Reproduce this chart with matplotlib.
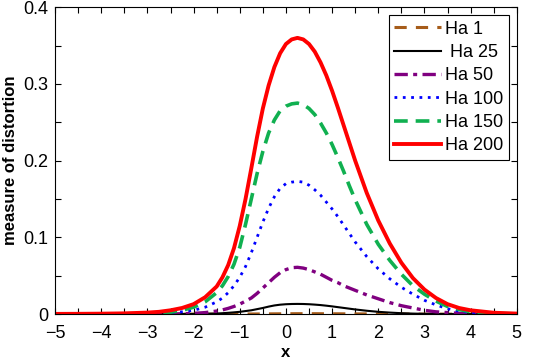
import matplotlib
matplotlib.use("Agg")
import matplotlib.pyplot as plt
from matplotlib.ticker import MultipleLocator

plt.rcParams["font.family"] = ["Liberation Sans", "DejaVu Sans"]

x = [-5, -4.5, -4, -3.5, -3, -2.75, -2.5, -2.25, -2, -1.75,
     -1.5, -1.375, -1.25, -1.125, -1, -0.875, -0.75, -0.625, -0.5, -0.375,
     -0.25, -0.125, 0, 0.125, 0.25, 0.375, 0.5, 0.625, 0.75, 0.875,
     1, 1.125, 1.25, 1.375, 1.5,
     1.75, 2, 2.25, 2.5, 2.75, 3, 3.25, 3.5, 3.75, 4, 4.5, 5]

ha1 = [0, 0, 0, 0, 0, 0, 0, 0, 0, 0,
       0, 0, 0, 0.00005, 0.0001, 0.00015, 0.0002, 0.00025, 0.0003, 0.00035,
       0.0004, 0.00045, 0.0005, 0.00055, 0.0006, 0.0006, 0.0006, 0.0006, 0.00055, 0.0005,
       0.0005, 0.00045, 0.0004, 0.00035, 0.0003,
       0.0003, 0.0002, 0.0001, 0.0001, 0, 0, 0, 0, 0, 0, 0, 0]
ha25 = [0, 0, 0, 0, 0, 0, 0, 0.0001, 0.0002, 0.0004,
        0.0008, 0.0012, 0.0017, 0.0023, 0.003, 0.004, 0.005, 0.0065, 0.008, 0.0098,
        0.0113, 0.0123, 0.0129, 0.0132, 0.0133, 0.0132, 0.0129, 0.0124, 0.0118, 0.0110,
        0.0101, 0.0091, 0.0081, 0.0071, 0.0061,
        0.0044, 0.0030, 0.0020, 0.0012, 0.0007, 0.0004, 0.0002, 0.0001, 0, 0, 0, 0]
ha50 = [0, 0, 0, 0, 0.0001, 0.0002, 0.0003, 0.0005, 0.001, 0.002,
        0.004, 0.0055, 0.0075, 0.010, 0.013, 0.017, 0.021, 0.027, 0.034, 0.041,
        0.048, 0.054, 0.058, 0.0605, 0.061, 0.060, 0.058, 0.055, 0.052, 0.048,
        0.044, 0.041, 0.037, 0.034, 0.031,
        0.025, 0.020, 0.015, 0.011, 0.008, 0.005, 0.003, 0.002, 0.001, 0.0005, 0.0002, 0]
ha100 = [0, 0, 0.0001, 0.0002, 0.0005, 0.001, 0.0018, 0.003, 0.005, 0.009,
         0.016, 0.021, 0.028, 0.037, 0.048, 0.062, 0.080, 0.100, 0.120, 0.138,
         0.153, 0.164, 0.170, 0.172, 0.173, 0.172, 0.168, 0.162, 0.155, 0.146,
         0.137, 0.127, 0.116, 0.105, 0.094,
         0.075, 0.059, 0.046, 0.035, 0.026, 0.018, 0.012, 0.007, 0.004, 0.002, 0.0006, 0.0002]
ha150 = [0.0001, 0.0001, 0.0002, 0.0004, 0.0008, 0.0013, 0.0025, 0.005, 0.009, 0.016,
         0.028, 0.037, 0.049, 0.065, 0.087, 0.117, 0.150, 0.183, 0.212, 0.236,
         0.253, 0.265, 0.271, 0.274, 0.275, 0.273, 0.268, 0.260, 0.249, 0.236,
         0.221, 0.204, 0.186, 0.167, 0.149,
         0.117, 0.091, 0.070, 0.052, 0.037, 0.026, 0.017, 0.010, 0.006, 0.003, 0.001, 0.0003]
ha200 = [0.0003, 0.0004, 0.0006, 0.001, 0.002, 0.003, 0.005, 0.008, 0.013, 0.022,
         0.036, 0.048, 0.064, 0.086, 0.115, 0.150, 0.190, 0.231, 0.268, 0.298,
         0.322, 0.340, 0.352, 0.358, 0.360, 0.358, 0.352, 0.342, 0.328, 0.311,
         0.291, 0.269, 0.246, 0.223, 0.200,
         0.158, 0.122, 0.092, 0.067, 0.047, 0.032, 0.021, 0.013, 0.008, 0.005, 0.0018, 0.0007]

fig = plt.figure(figsize=(5.4, 3.59), dpi=100)
ax = fig.add_axes([0.102, 0.125, 0.855, 0.855])

ax.plot(x, ha1, color="#a65c1a", lw=2.2, ls=(0, (4, 3)), label="Ha 1")
ax.plot(x, ha25, color="black", lw=1.5, label=" Ha 25")
ax.plot(x, ha50, color="#800080", lw=2.4, ls=(0, (4, 1.6, 1.2, 1.6)), label="Ha 50")
ax.plot(x, ha100, color="#0000ff", lw=2.0, ls=(0, (1, 2)), label="Ha 100")
ax.plot(x, ha150, color="#10b050", lw=2.6, ls=(0, (3.8, 2.2)), label="Ha 150")
ax.plot(x, ha200, color="#ff0000", lw=2.8, label="Ha 200")

ax.set_xlim(-5, 5)
ax.set_ylim(0, 0.4)
ax.set_xticks(range(-5, 6))
ax.set_yticks([0, 0.1, 0.2, 0.3, 0.4])
ax.set_yticklabels(["0", "0.1", "0.2", "0.3", "0.4"])
ax.xaxis.set_minor_locator(MultipleLocator(0.5))
ax.yaxis.set_minor_locator(MultipleLocator(0.05))
ax.tick_params(which="both", direction="in", top=True, right=True, labelsize=13,
               length=4, width=0.8)
ax.tick_params(axis="x", pad=8)
ax.tick_params(axis="y", pad=5)
ax.set_xlabel("x", fontsize=12, fontweight="bold", labelpad=2)
ax.set_ylabel("measure of distortion", fontsize=12, fontweight="bold", labelpad=4)

leg = ax.legend(loc="upper right", fontsize=13, handlelength=2.6, handletextpad=0.2,
                labelspacing=0.35, borderpad=0.3, fancybox=False, framealpha=1,
                edgecolor="black", borderaxespad=0.45)
leg.get_frame().set_linewidth(0.8)

fig.savefig("out.png", dpi=100)
